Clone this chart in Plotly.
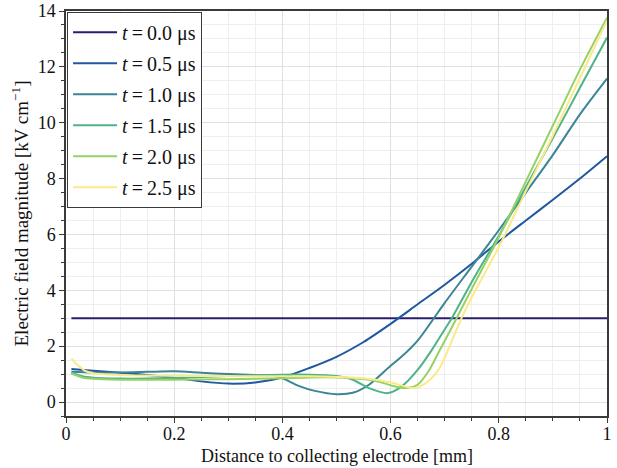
import plotly.graph_objects as go

# Electric field magnitude vs. distance to the collecting electrode, several times
distance_mm = {
    "0.0": [0.01, 0.25, 0.5, 0.75, 1.0],
    "0.5": [0.01, 0.05, 0.10, 0.15, 0.20, 0.25, 0.30, 0.35, 0.40, 0.45, 0.50, 0.55,
            0.60, 0.65, 0.70, 0.75, 0.80, 0.85, 0.90, 0.95, 1.0],
    "1.0": [0.01, 0.05, 0.10, 0.15, 0.20, 0.25, 0.30, 0.35, 0.38, 0.40, 0.43, 0.46,
            0.50, 0.53, 0.56, 0.60, 0.62, 0.65, 0.68, 0.70, 0.75, 0.80, 0.85, 0.90,
            0.95, 1.0],
    "1.5": [0.01, 0.03, 0.05, 0.10, 0.15, 0.20, 0.25, 0.30, 0.35, 0.40, 0.45, 0.50,
            0.53, 0.56, 0.595, 0.62, 0.65, 0.676, 0.70, 0.713, 0.75, 0.80, 0.85,
            0.90, 0.95, 1.0],
    "2.0": [0.01, 0.03, 0.05, 0.10, 0.15, 0.20, 0.25, 0.30, 0.35, 0.40, 0.45, 0.50,
            0.55, 0.58, 0.60, 0.63, 0.65, 0.67, 0.691, 0.722, 0.75, 0.80, 0.85,
            0.90, 0.95, 1.0],
    "2.5": [0.01, 0.02, 0.035, 0.05, 0.10, 0.15, 0.20, 0.25, 0.30, 0.35, 0.40, 0.45,
            0.50, 0.55, 0.60, 0.645, 0.67, 0.69, 0.706, 0.731, 0.75, 0.80, 0.85,
            0.90, 0.95, 1.0],
}
field_kv_cm = {
    "0.0": [3.0, 3.0, 3.0, 3.0, 3.0],
    "0.5": [1.18, 1.12, 1.05, 0.97, 0.87, 0.74, 0.66, 0.70, 0.88, 1.22, 1.62, 2.15,
            2.80, 3.50, 4.20, 4.95, 5.75, 6.50, 7.24, 8.00, 8.80],
    "1.0": [1.08, 1.05, 1.06, 1.08, 1.10, 1.05, 1.00, 0.97, 0.95, 0.85, 0.58, 0.40,
            0.28, 0.33, 0.62, 1.30, 1.62, 2.20, 3.00, 3.55, 4.85, 6.15, 7.50, 8.85,
            10.30, 11.58],
    "1.5": [1.05, 0.92, 0.87, 0.84, 0.84, 0.86, 0.90, 0.93, 0.96, 0.98, 0.98, 0.93,
            0.80, 0.50, 0.32, 0.55, 1.15, 1.86, 2.60, 3.00, 4.30, 5.95, 7.70,
            9.45, 11.25, 13.05],
    "2.0": [1.02, 0.88, 0.83, 0.80, 0.80, 0.80, 0.81, 0.82, 0.83, 0.85, 0.88, 0.88,
            0.82, 0.72, 0.60, 0.50, 0.62, 1.10, 1.86, 3.00, 4.05, 5.90, 7.90,
            9.90, 11.90, 13.76],
    "2.5": [1.55, 1.35, 1.12, 1.03, 0.97, 0.95, 0.94, 0.93, 0.93, 0.92, 0.92, 0.92,
            0.90, 0.85, 0.70, 0.50, 0.75, 1.20, 1.86, 3.00, 3.75, 5.55, 7.55,
            9.55, 11.60, 13.65],
}
times_us = ["0.0", "0.5", "1.0", "1.5", "2.0", "2.5"]
colors = ["#2c1e6e", "#1f57a0", "#3a8596", "#4fb38a", "#94d266", "#fbe98a"]

x_ticks = [0, 0.2, 0.4, 0.6, 0.8, 1.0]
x_tick_text = ["0", "0.2", "0.4", "0.6", "0.8", "1"]
y_ticks = [0, 2, 4, 6, 8, 10, 12, 14]

SERIF = "Liberation Serif"

fig = go.Figure()
for i, (t, c) in enumerate(zip(times_us, colors)):
    fig.add_trace(go.Scatter(
        x=distance_mm[t], y=field_kv_cm[t], mode="lines",
        line=dict(color=c, width=2, shape="spline", smoothing=0.8),
        name=f"<i>t</i>\u2009=\u2009{t} μs", legendgroup=f"g{i}",
    ))

axis_common = dict(
    showline=True, linecolor="#3a3a3a", linewidth=1.5, mirror=True,
    ticks="outside", ticklen=5, tickwidth=1, tickcolor="#3a3a3a",
    showgrid=True, gridcolor="#e0e0e0", gridwidth=1,
    zeroline=False, automargin=False,
    tickfont=dict(family=SERIF, size=18, color="#111"),
)

fig.update_xaxes(
    **axis_common, range=[0, 1], tickvals=x_ticks, ticktext=x_tick_text,
    ticklabelstandoff=-4,
    minor=dict(dtick=0.05, ticks="outside", ticklen=3, tickcolor="#3a3a3a",
               showgrid=True, gridcolor="#eeeeee"),
)
fig.update_yaxes(
    **axis_common, range=[-0.5, 14], tickvals=y_ticks,
    minor=dict(dtick=0.5, ticks="outside", ticklen=3, tickcolor="#3a3a3a",
               showgrid=True, gridcolor="#eeeeee"),
    title=dict(text="Electric field magnitude [kV cm<sup>−1</sup>]",
               font=dict(family=SERIF, size=19, color="#111"), standoff=4),
)

# x-axis title placed as a paper annotation below the tick labels
fig.add_annotation(
    text="Distance to collecting electrode [mm]",
    xref="paper", yref="paper", x=0.5, y=0, yshift=-28,
    xanchor="center", yanchor="top", showarrow=False,
    font=dict(family=SERIF, size=18, color="#111"),
)

fig.update_layout(
    width=617, height=468,
    margin=dict(l=66, r=10, t=11, b=52),
    font=dict(family=SERIF, color="#111"),
    paper_bgcolor="white", plot_bgcolor="white",
    showlegend=True,
    legend=dict(
        x=0.002, y=0.998, xanchor="left", yanchor="top",
        bgcolor="white", bordercolor="#3a3a3a", borderwidth=1,
        font=dict(family=SERIF, size=20, color="#111"),
        tracegroupgap=2, traceorder="grouped", itemwidth=44,
    ),
)

fig.write_html("out.html")
